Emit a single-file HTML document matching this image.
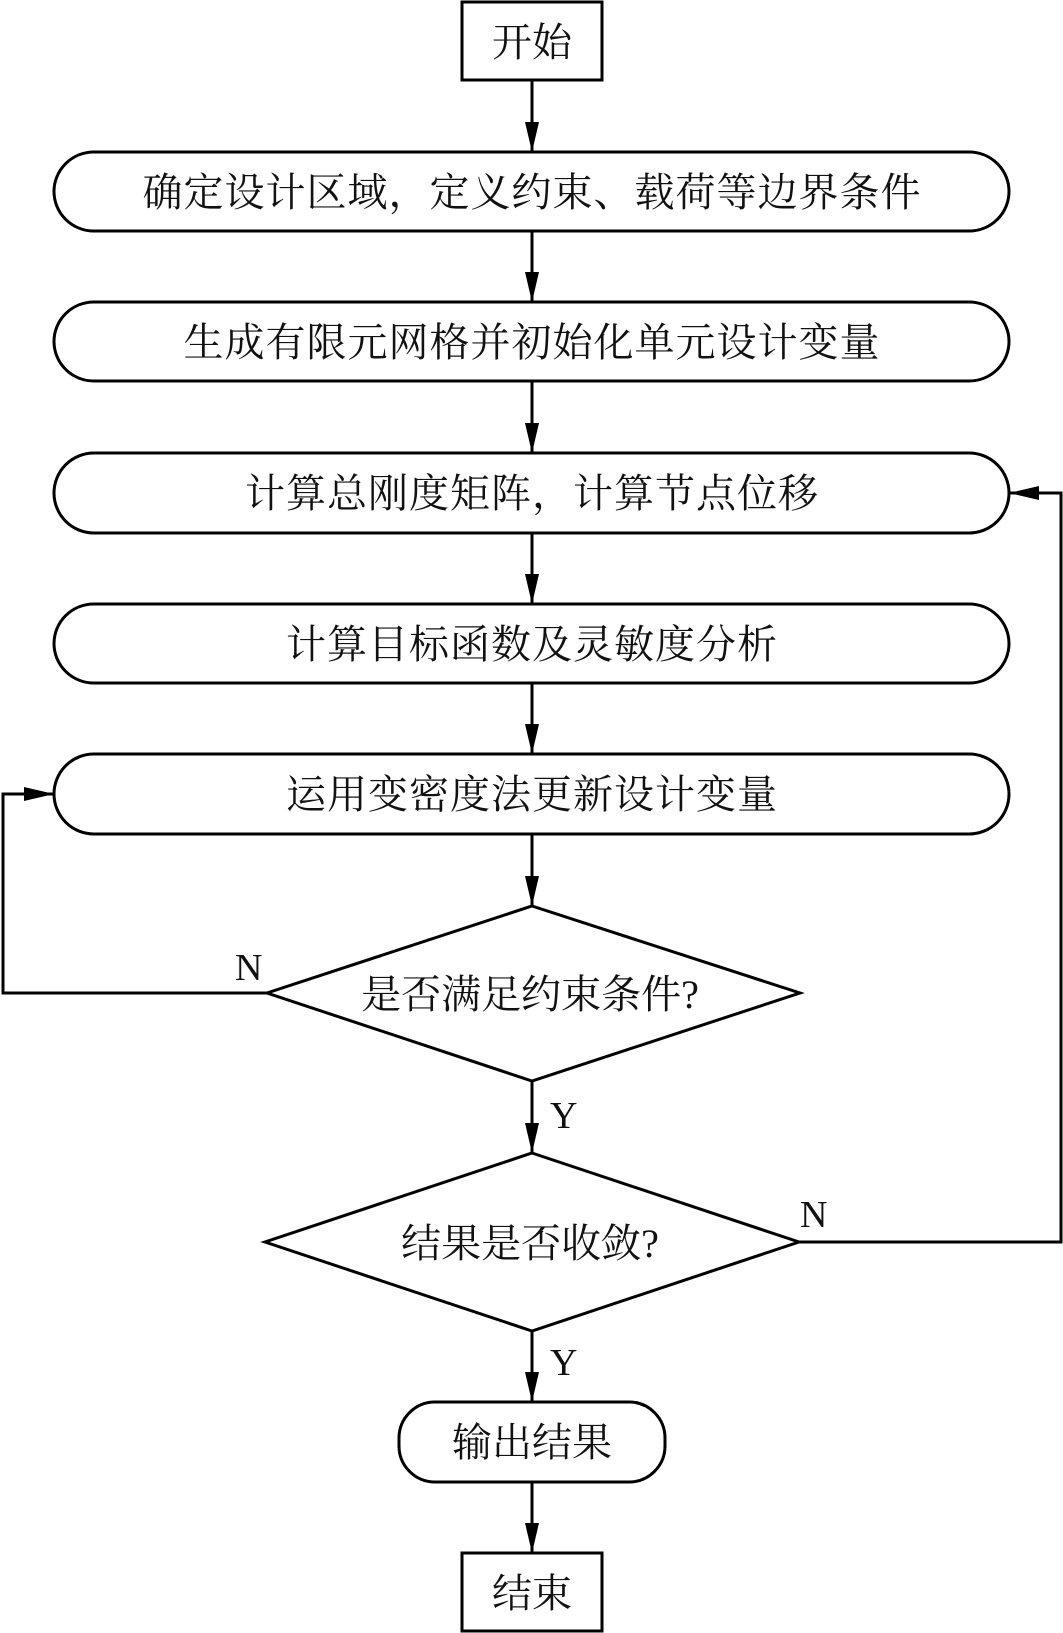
<!DOCTYPE html>
<html><head><meta charset="utf-8"><style>
html,body{margin:0;padding:0;background:#fff;}
svg{display:block;}
text{font-family:"Liberation Serif","Noto Serif CJK SC",serif;fill:#111;}
</style></head><body>
<svg width="1063" height="1633" viewBox="0 0 1063 1633" xmlns="http://www.w3.org/2000/svg">
<defs>
<marker id="a" markerWidth="30" markerHeight="14" refX="30" refY="7" orient="auto" markerUnits="userSpaceOnUse">
<path d="M0,0 L30,7 L0,14 Z" fill="#000"/>
</marker>
</defs>
<g fill="none" stroke="#000" stroke-width="3">
<rect x="462" y="2" width="140" height="78"/>
<rect x="54" y="152" width="955" height="79" rx="40"/>
<rect x="54" y="302" width="955" height="79" rx="40"/>
<rect x="54" y="453" width="955" height="80" rx="40"/>
<rect x="54" y="604" width="955" height="79" rx="40"/>
<rect x="54" y="754" width="955" height="80" rx="40"/>
<polygon points="532,906 800,993 532,1081 267,993"/>
<polygon points="532,1153 799,1242 532,1331 265,1242"/>
<rect x="399" y="1402" width="266" height="80" rx="36"/>
<rect x="462" y="1553" width="140" height="78"/>
<g marker-end="url(#a)">
<line x1="532" y1="80" x2="532" y2="152"/>
<line x1="532" y1="231" x2="532" y2="302"/>
<line x1="532" y1="381" x2="532" y2="453"/>
<line x1="532" y1="533" x2="532" y2="604"/>
<line x1="532" y1="683" x2="532" y2="754"/>
<line x1="532" y1="834" x2="532" y2="906"/>
<line x1="532" y1="1081" x2="532" y2="1153"/>
<line x1="532" y1="1331" x2="532" y2="1402"/>
<line x1="532" y1="1482" x2="532" y2="1553"/>
<polyline points="267,993 3,993 3,794 54,794"/>
<polyline points="799,1242 1061,1242 1061,493 1009,493"/>
</g>
</g>
<g font-size="40" text-anchor="middle">
<text x="532" y="56">开始</text>
<text x="532" y="206" letter-spacing="1">确定设计区域，定义约束、载荷等边界条件</text>
<text x="532" y="356" letter-spacing="1">生成有限元网格并初始化单元设计变量</text>
<text x="532" y="507" letter-spacing="1">计算总刚度矩阵，计算节点位移</text>
<text x="532" y="658" letter-spacing="1">计算目标函数及灵敏度分析</text>
<text x="532" y="808" letter-spacing="1">运用变密度法更新设计变量</text>
<text x="530" y="1008">是否满足约束条件?</text>
<text x="530" y="1257">结果是否收敛?</text>
<text x="532" y="1456">输出结果</text>
<text x="532" y="1607">结束</text>
</g>
<g font-size="38">
<text x="235" y="980">N</text>
<text x="550" y="1128">Y</text>
<text x="800" y="1227">N</text>
<text x="550" y="1375">Y</text>
</g>
</svg>
</body></html>
